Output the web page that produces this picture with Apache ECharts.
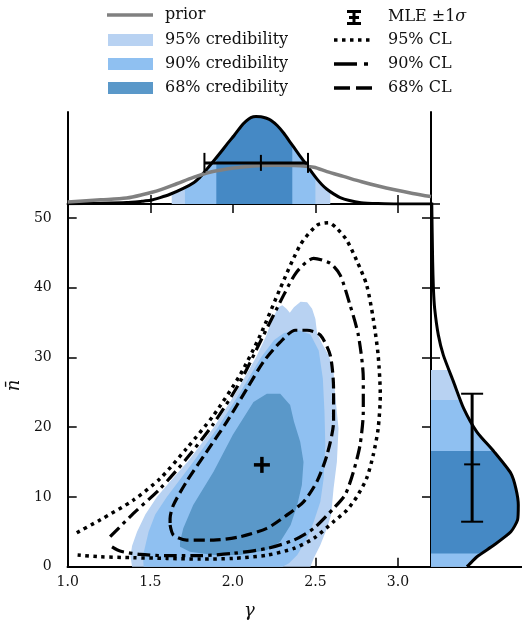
<!DOCTYPE html>
<html><head><meta charset="utf-8">
<script src="https://cdn.jsdelivr.net/npm/echarts@6/dist/echarts.min.js"></script>
<style>html,body{margin:0;padding:0;background:#fff}#c{width:522px;height:624px}</style>
</head><body><div id="c"></div>
<script>
// ---------- data ----------
const gammaRange = [1.0, 3.2];
const nbarRange = [0, 52];
const gammaTicks = [1.0, 1.5, 2.0, 2.5, 3.0];
const nbarTicks = [0, 10, 20, 30, 40, 50];

// 2D credibility regions (gamma, nbar)
const cred95 = [[1.39,0],[1.38,1.5],[1.39,3.0],[1.42,5.0],[1.47,7.5],[1.54,10.0],[1.63,12.5],[1.725,15.0],[1.885,20.0],[2.02,25.0],[2.14,30.0],[2.20,33.0],[2.24,35.5],[2.275,37.2],[2.30,37.5],[2.325,37.0],[2.345,36.4],[2.37,37.2],[2.41,38.0],[2.45,37.9],[2.48,37.0],[2.50,35.5],[2.51,33.5],[2.54,32.0],[2.58,30.3],[2.61,28.0],[2.62,24.6],[2.64,19.8],[2.63,15.0],[2.61,11.2],[2.595,7.4],[2.57,5.5],[2.53,3.1],[2.49,1.2],[2.47,0]];
const cred90 = [[1.46,0],[1.455,1.5],[1.47,3.0],[1.49,5.0],[1.53,7.5],[1.60,10.0],[1.68,12.5],[1.76,15.0],[1.91,20.0],[2.045,25.0],[2.17,30.0],[2.25,32.5],[2.31,33.5],[2.40,33.9],[2.47,33.3],[2.52,31.0],[2.545,27.0],[2.555,22.2],[2.56,17.4],[2.55,12.65],[2.53,9.3],[2.49,6.45],[2.45,4.06],[2.39,1.67],[2.34,0.5],[2.30,0]];
const cred68 = [[1.68,3.58],[1.70,5.5],[1.76,8.83],[1.883,13.6],[2.0,18.9],[2.125,23.6],[2.206,24.8],[2.287,24.8],[2.347,23.2],[2.37,20.8],[2.408,17.9],[2.428,15.0],[2.418,11.7],[2.39,8.83],[2.35,5.97],[2.287,3.58],[2.206,2.39],[2.044,1.67],[1.883,1.67],[1.74,2.15],[1.68,2.87]];

// confidence-level contours (gamma, nbar)
const cl95 = [[1.055,4.87],[1.196,6.7],[1.398,9.55],[1.56,12.65],[1.72,16.95],[1.883,21.7],[2.044,27.5],[2.166,33.2],[2.287,39.9],[2.408,46.1],[2.509,48.95],[2.58,49.3],[2.63,48.5],[2.69,46.8],[2.75,43.9],[2.81,40.4],[2.85,35.6],[2.88,30.3],[2.893,24.6],[2.88,19.8],[2.85,16.0],[2.81,12.65],[2.75,10.0],[2.69,8.1],[2.61,6.45],[2.49,4.06],[2.37,2.63],[2.21,1.67],[2.0,1.19],[1.80,1.1],[1.6,1.19],[1.4,1.29],[1.196,1.43],[1.06,1.67]];
const cl90 = [[1.257,4.3],[1.398,7.64],[1.56,11.2],[1.72,15.5],[1.883,20.5],[2.044,26.5],[2.186,33.2],[2.307,38.9],[2.388,42.3],[2.489,44.2],[2.59,43.5],[2.65,41.8],[2.71,37.5],[2.76,33.2],[2.79,27.0],[2.79,22.2],[2.77,17.4],[2.73,13.6],[2.68,10.3],[2.61,8.36],[2.49,5.5],[2.37,3.82],[2.21,2.63],[2.0,1.91],[1.80,1.58],[1.6,1.58],[1.44,1.77],[1.317,2.24],[1.257,3.0]];
const cl68 = [[1.62,5.97],[1.64,4.54],[1.72,3.82],[1.883,3.82],[2.044,4.3],[2.206,5.5],[2.327,7.4],[2.428,9.3],[2.509,12.2],[2.57,16.0],[2.61,20.8],[2.61,25.5],[2.59,30.3],[2.53,33.2],[2.45,33.9],[2.378,33.9],[2.287,32.2],[2.186,29.4],[2.085,25.5],[1.964,20.8],[1.842,16.5],[1.72,12.2],[1.64,8.83],[1.62,6.9],[1.62,5.97]];

const mle = [2.176, 14.6];

// marginal of gamma (gamma, density)
const postGamma = [[1.0,0.004],[1.2,0.008],[1.357,0.015],[1.45,0.03],[1.5,0.04],[1.56,0.07],[1.62,0.106],[1.70,0.17],[1.765,0.235],[1.80,0.29],[1.826,0.344],[1.886,0.473],[1.93,0.57],[1.967,0.656],[2.01,0.75],[2.048,0.84],[2.08,0.9],[2.109,0.938],[2.14,0.95],[2.17,0.949],[2.20,0.935],[2.23,0.91],[2.27,0.85],[2.31,0.766],[2.35,0.665],[2.39,0.564],[2.42,0.49],[2.45,0.418],[2.48,0.34],[2.51,0.27],[2.54,0.21],[2.57,0.16],[2.61,0.11],[2.65,0.07],[2.70,0.04],[2.776,0.015],[2.88,0.005],[3.0,0.0],[3.2,0.0]];
const priorGamma = [[1.0,0.022],[1.2,0.045],[1.357,0.065],[1.45,0.1],[1.56,0.154],[1.66,0.22],[1.761,0.289],[1.86,0.345],[1.963,0.38],[2.07,0.405],[2.17,0.418],[2.27,0.42],[2.37,0.418],[2.49,0.4],[2.57,0.352],[2.67,0.3],[2.78,0.242],[2.88,0.195],[2.98,0.154],[3.09,0.115],[3.2,0.081]];
const gammaBand95 = [1.63, 2.59];
const gammaBand90 = [1.71, 2.50];
const gammaBand68 = [1.90, 2.36];
const gammaErr = [1.828, 2.17, 2.455, 0.447]; // low, mle, high, height

// marginal of nbar (density, nbar)
const postNbar = [[0.008,52.3],[0.018,43.7],[0.026,39.9],[0.04,37.0],[0.08,33.2],[0.135,30.3],[0.245,26.5],[0.355,22.7],[0.50,19.3],[0.685,16.5],[0.868,13.4],[0.923,11.2],[0.949,8.84],[0.941,6.7],[0.868,5.0],[0.685,3.1],[0.50,1.43],[0.41,0.24],[0.39,0]];
const nbarBand95 = [0, 28.2];
const nbarBand90 = [0, 23.9];
const nbarBand68 = [1.9, 16.6];
const nbarErr = [0.447, 6.45, 14.67, 24.8]; // x, low, mle, high

// ---------- styles ----------
const C_LIGHT = '#b8d2f2', C_MID = '#8fc0f1', C_DARK2D = '#5a98c9', C_DARK = '#4589c5';
const FONT = 'DejaVu Serif';
const TXT = '#111';

function interpAt(curve, t) { // curve sorted by [t, v]
  for (let i = 0; i < curve.length - 1; i++) {
    const [t0, v0] = curve[i], [t1, v1] = curve[i + 1];
    if (t >= t0 && t <= t1) return t1 === t0 ? v0 : v0 + (v1 - v0) * (t - t0) / (t1 - t0);
  }
  return 0;
}
function bandPoly(curve, band) {
  const [a, b] = band;
  const pts = [[a, 0], [a, interpAt(curve, a)]];
  curve.forEach(p => { if (p[0] > a && p[0] < b) pts.push(p); });
  pts.push([b, interpAt(curve, b)], [b, 0]);
  return pts;
}
const postGammaTV = postGamma;
const postNbarTV = postNbar.map(p => [p[1], p[0]]).sort((a, b) => a[0] - b[0]);

function polySeries(pts, color, xi, yi, z) {
  return {
    type: 'custom', xAxisIndex: xi, yAxisIndex: yi, z: z, silent: true,
    data: pts,
    renderItem: function (params, api) {
      if (params.dataIndex !== 0) return null;
      return { type: 'polygon', shape: { points: pts.map(p => api.coord(p)) }, style: { fill: color } };
    }
  };
}
function lineSeries(pts, dash, xi, yi, color, width, z) {
  return {
    type: 'line', xAxisIndex: xi, yAxisIndex: yi, data: pts, symbol: 'none', z: z, silent: true,
    smooth: 0.25, animation: false,
    lineStyle: { color: color || '#000', width: width || 3, type: dash || 'solid', cap: 'butt', join: 'round' }
  };
}

const axisLine = { show: true, lineStyle: { color: '#000', width: 2 } };
const tickIn = { show: true, inside: true, length: 9, lineStyle: { color: '#000', width: 1.5 } };
const labelStyle = { color: TXT, fontFamily: FONT, fontSize: 14 };
const noAxis = { axisTick: { show: false }, axisLabel: { show: false }, splitLine: { show: false } };

const chart = echarts.init(document.getElementById('c'), null, { renderer: 'canvas' });
const option = {
  animation: false,
  backgroundColor: '#fff',
  grid: [
    { left: 67.7, top: 204, width: 363.3, height: 362.7, outerBoundsMode: 'none', containLabel: false },
    { left: 67.7, top: 112, width: 363.3, height: 92, outerBoundsMode: 'none', containLabel: false },
    { left: 431, top: 204, width: 92, height: 362.7, outerBoundsMode: 'none', containLabel: false }
  ],
  xAxis: [
    { type: 'value', gridIndex: 0, min: gammaRange[0], max: gammaRange[1], interval: 0.5, axisLine: axisLine, axisTick: tickIn,
      splitLine: { show: false },
      axisLabel: Object.assign({ margin: 9, showMaxLabel: false, formatter: v => gammaTicks.includes(+v.toFixed(1)) ? v.toFixed(1) : '' }, labelStyle),
      name: 'γ', nameLocation: 'middle', nameGap: 36, nameTextStyle: { fontFamily: FONT, fontSize: 18, fontStyle: 'italic', color: TXT } },
    Object.assign({ type: 'value', gridIndex: 0, position: 'top', min: gammaRange[0], max: gammaRange[1], axisLine: axisLine }, noAxis),
    { type: 'value', gridIndex: 1, min: gammaRange[0], max: gammaRange[1], interval: 0.5, axisLine: axisLine, axisTick: tickIn, axisLabel: { show: false }, splitLine: { show: false } },
    { type: 'value', gridIndex: 1, position: 'top', min: gammaRange[0], max: gammaRange[1], interval: 0.5, axisLine: axisLine, axisTick: tickIn, axisLabel: { show: false }, splitLine: { show: false } },
    Object.assign({ type: 'value', gridIndex: 2, min: 0, max: 1, axisLine: axisLine }, noAxis),
    Object.assign({ type: 'value', gridIndex: 2, position: 'top', min: 0, max: 1, axisLine: axisLine }, noAxis)
  ],
  yAxis: [
    { type: 'value', gridIndex: 0, min: nbarRange[0], max: nbarRange[1], interval: 10, axisLine: axisLine, axisTick: tickIn, splitLine: { show: false },
      axisLabel: Object.assign({ margin: 16, showMaxLabel: false, formatter: v => nbarTicks.includes(v) ? String(v) : '' }, labelStyle),
      name: 'n̄', nameLocation: 'middle', nameGap: 42, nameRotate: 90, nameTextStyle: { fontFamily: FONT, fontSize: 18, fontStyle: 'italic', color: TXT } },
    { type: 'value', gridIndex: 0, position: 'right', min: nbarRange[0], max: nbarRange[1], interval: 10, axisLine: axisLine, axisTick: tickIn, axisLabel: { show: false }, splitLine: { show: false } },
    Object.assign({ type: 'value', gridIndex: 1, min: 0, max: 1, axisLine: axisLine }, noAxis),
    Object.assign({ type: 'value', gridIndex: 1, position: 'right', min: 0, max: 1, axisLine: axisLine }, noAxis),
    { type: 'value', gridIndex: 2, min: nbarRange[0], max: nbarRange[1], interval: 10, axisLine: axisLine, axisTick: tickIn, axisLabel: { show: false }, splitLine: { show: false } },
    { type: 'value', gridIndex: 2, position: 'right', min: nbarRange[0], max: nbarRange[1], interval: 10, axisLine: axisLine, axisTick: tickIn, axisLabel: { show: false }, splitLine: { show: false } }
  ],
  series: [
    // main 2D
    polySeries(cred95, C_LIGHT, 0, 0, 1),
    polySeries(cred90, C_MID, 0, 0, 2),
    polySeries(cred68, C_DARK2D, 0, 0, 3),
    lineSeries(cl95, [3.5, 4.5], 0, 0, '#000', 3.5, 5),
    lineSeries(cl90, [13, 5, 3.5, 5], 0, 0, '#000', 3.2, 5),
    lineSeries(cl68, [11, 5], 0, 0, '#000', 3.2, 5),
    { type: 'custom', xAxisIndex: 0, yAxisIndex: 0, z: 6, silent: true, data: [mle],
      renderItem: (params, api) => {
        const c = api.coord([api.value(0), api.value(1)]);
        const s = { stroke: '#000', lineWidth: 3.5 };
        return { type: 'group', children: [
          { type: 'line', shape: { x1: c[0] - 8, y1: c[1], x2: c[0] + 8, y2: c[1] }, style: s },
          { type: 'line', shape: { x1: c[0], y1: c[1] - 8, x2: c[0], y2: c[1] + 8 }, style: s }
        ] };
      } },
    // top marginal
    polySeries(bandPoly(postGammaTV, gammaBand95), C_LIGHT, 2, 2, 1),
    polySeries(bandPoly(postGammaTV, gammaBand90), C_MID, 2, 2, 2),
    polySeries(bandPoly(postGammaTV, gammaBand68), C_DARK, 2, 2, 3),
    Object.assign(lineSeries(postGamma, 'solid', 2, 2, '#000', 3, 5), { smooth: 0.2 }),
    Object.assign(lineSeries(priorGamma, 'solid', 2, 2, '#808080', 3.5, 6), { smooth: 0.3 }),
    { type: 'custom', xAxisIndex: 2, yAxisIndex: 2, z: 7, silent: true, data: [gammaErr],
      renderItem: (params, api) => {
        const l = api.coord([api.value(0), api.value(3)]);
        const m = api.coord([api.value(1), api.value(3)]);
        const r = api.coord([api.value(2), api.value(3)]);
        const s = { stroke: '#000', lineWidth: 3 };
        return { type: 'group', children: [
          { type: 'line', shape: { x1: l[0], y1: l[1], x2: r[0], y2: r[1] }, style: s },
          { type: 'line', shape: { x1: l[0], y1: l[1] - 10, x2: l[0], y2: l[1] + 10 }, style: { stroke: '#000', lineWidth: 2 } },
          { type: 'line', shape: { x1: r[0], y1: r[1] - 10, x2: r[0], y2: r[1] + 10 }, style: { stroke: '#000', lineWidth: 2 } },
          { type: 'line', shape: { x1: m[0], y1: m[1] - 8, x2: m[0], y2: m[1] + 8 }, style: { stroke: '#000', lineWidth: 2 } }
        ] };
      } },
    // right marginal
    polySeries(bandPoly(postNbarTV, nbarBand95).map(p => [p[1], p[0]]), C_LIGHT, 4, 4, 1),
    polySeries(bandPoly(postNbarTV, nbarBand90).map(p => [p[1], p[0]]), C_MID, 4, 4, 2),
    polySeries(bandPoly(postNbarTV, nbarBand68).map(p => [p[1], p[0]]), C_DARK, 4, 4, 3),
    Object.assign(lineSeries(postNbar, 'solid', 4, 4, '#000', 3, 5), { smooth: 0.2 }),
    { type: 'custom', xAxisIndex: 4, yAxisIndex: 4, z: 7, silent: true, data: [nbarErr],
      renderItem: (params, api) => {
        const lo = api.coord([api.value(0), api.value(1)]);
        const m = api.coord([api.value(0), api.value(2)]);
        const hi = api.coord([api.value(0), api.value(3)]);
        const s = { stroke: '#000', lineWidth: 3 };
        return { type: 'group', children: [
          { type: 'line', shape: { x1: lo[0], y1: lo[1], x2: hi[0], y2: hi[1] }, style: s },
          { type: 'line', shape: { x1: lo[0] - 11, y1: lo[1], x2: lo[0] + 11, y2: lo[1] }, style: { stroke: '#000', lineWidth: 2 } },
          { type: 'line', shape: { x1: hi[0] - 11, y1: hi[1], x2: hi[0] + 11, y2: hi[1] }, style: { stroke: '#000', lineWidth: 2 } },
          { type: 'line', shape: { x1: m[0] - 8, y1: m[1], x2: m[0] + 8, y2: m[1] }, style: { stroke: '#000', lineWidth: 2 } }
        ] };
      } }
  ],
  graphic: [
    // legend left column
    { type: 'line', shape: { x1: 107, y1: 15, x2: 153, y2: 15 }, style: { stroke: '#808080', lineWidth: 3.5 } },
    { type: 'rect', shape: { x: 108, y: 34, width: 45, height: 12 }, style: { fill: C_LIGHT } },
    { type: 'rect', shape: { x: 108, y: 58, width: 45, height: 12 }, style: { fill: C_MID } },
    { type: 'rect', shape: { x: 108, y: 82, width: 45, height: 12 }, style: { fill: C_DARK2D } },
    { type: 'text', x: 165, y: 15, style: { text: 'prior', font: '16px "DejaVu Serif"', fill: TXT, verticalAlign: 'middle' } },
    { type: 'text', x: 165, y: 40, style: { text: '95% credibility', font: '16px "DejaVu Serif"', fill: TXT, verticalAlign: 'middle' } },
    { type: 'text', x: 165, y: 64, style: { text: '90% credibility', font: '16px "DejaVu Serif"', fill: TXT, verticalAlign: 'middle' } },
    { type: 'text', x: 165, y: 88, style: { text: '68% credibility', font: '16px "DejaVu Serif"', fill: TXT, verticalAlign: 'middle' } },
    // legend right column
    { type: 'line', shape: { x1: 354, y1: 11, x2: 354, y2: 24 }, style: { stroke: '#000', lineWidth: 3 } },
    { type: 'line', shape: { x1: 347, y1: 11.5, x2: 361, y2: 11.5 }, style: { stroke: '#000', lineWidth: 3 } },
    { type: 'line', shape: { x1: 347, y1: 23.5, x2: 361, y2: 23.5 }, style: { stroke: '#000', lineWidth: 3 } },
    { type: 'line', shape: { x1: 349, y1: 17.5, x2: 359, y2: 17.5 }, style: { stroke: '#000', lineWidth: 3 } },
    { type: 'line', shape: { x1: 334, y1: 40, x2: 373, y2: 40 }, style: { stroke: '#000', lineWidth: 3.5, lineDash: [3.5, 4.5] } },
    { type: 'line', shape: { x1: 334, y1: 64, x2: 372, y2: 64 }, style: { stroke: '#000', lineWidth: 3.5, lineDash: [23, 7, 4, 20] } },
    { type: 'line', shape: { x1: 334, y1: 88, x2: 372, y2: 88 }, style: { stroke: '#000', lineWidth: 3.5, lineDash: [16, 6] } },
    { type: 'text', x: 388, y: 17, style: { text: 'MLE ±1{i|σ}', font: '16px "DejaVu Serif"', fill: TXT, verticalAlign: 'middle',
        rich: { i: { fontFamily: FONT, fontSize: 16, fontStyle: 'italic', fill: TXT } } } },
    { type: 'text', x: 388, y: 40, style: { text: '95% CL', font: '16px "DejaVu Serif"', fill: TXT, verticalAlign: 'middle' } },
    { type: 'text', x: 388, y: 64, style: { text: '90% CL', font: '16px "DejaVu Serif"', fill: TXT, verticalAlign: 'middle' } },
    { type: 'text', x: 388, y: 88, style: { text: '68% CL', font: '16px "DejaVu Serif"', fill: TXT, verticalAlign: 'middle' } }
  ]
};
chart.setOption(option);
</script>
</body></html>
